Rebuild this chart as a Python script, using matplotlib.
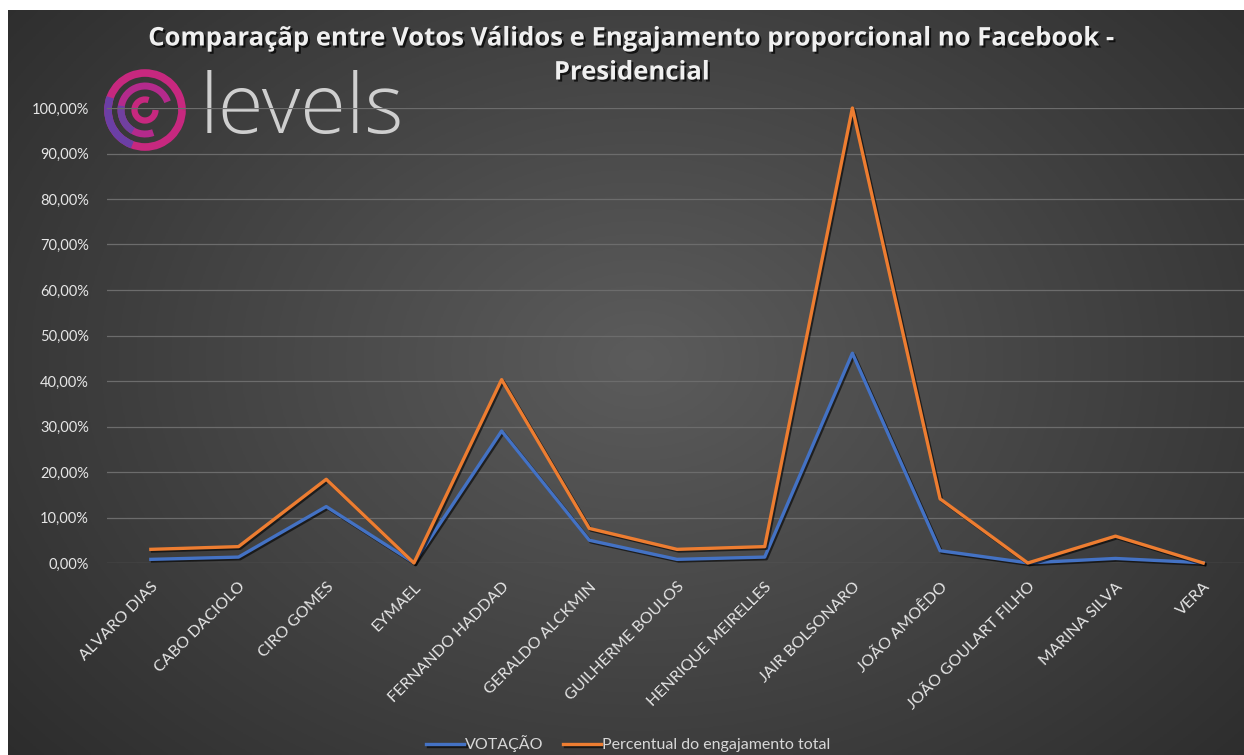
import numpy as np
import matplotlib
matplotlib.use("Agg")
import matplotlib.pyplot as plt
import matplotlib.patheffects as pe
from matplotlib.patches import Arc

candidatos = ['ALVARO DIAS', 'CABO DACIOLO', 'CIRO GOMES', 'EYMAEL', 'FERNANDO HADDAD',
              'GERALDO ALCKMIN', 'GUILHERME BOULOS', 'HENRIQUE MEIRELLES', 'JAIR BOLSONARO',
              'JOÃO AMOÊDO', 'JOÃO GOULART FILHO', 'MARINA SILVA', 'VERA']
votacao = [0.008, 0.013, 0.124, 0.0005, 0.290, 0.050, 0.008, 0.013, 0.461, 0.027, 0.0003, 0.010, 0.0005]
engajamento = [0.030, 0.036, 0.184, 0.0, 0.403, 0.076, 0.030, 0.036, 1.000, 0.141, 0.0, 0.059, 0.0]
yticks = np.arange(0, 1.01, 0.1)

titulo1 = 'Comparaçãp entre Votos Válidos e Engajamento proporcional no Facebook -'
titulo2 = 'Presidencial'

plt.rcParams['font.family'] = ['Lato', 'DejaVu Sans']

W, H = 1244, 755
fig = plt.figure(figsize=(W / 100, H / 100), dpi=100, facecolor='white')

# fundo com gradiente radial
bg = fig.add_axes([0, 0, 1, 1])
bg.set_xlim(0, W)
bg.set_ylim(H, 0)
bg.axis('off')
xx, yy = np.meshgrid(np.linspace(8, W, 400), np.linspace(10, H, 250))
r = np.sqrt(((xx - 640) / 760) ** 2 + ((yy - 360) / 560) ** 2)
g = np.clip(0.36 - 0.17 * r, 0.16, 0.36)
bg.imshow(np.dstack([g, g, g]), extent=[8, W, H, 10], aspect='auto', zorder=0)

# logo
cx, cy = 145, 110
bg.add_patch(Arc((cx, cy), 74, 74, theta1=0, theta2=360, color='#c7287f', lw=5.5, zorder=2))
bg.add_patch(Arc((cx, cy), 74, 74, theta1=110, theta2=200, color='#6b3fa5', lw=5.5, zorder=3))
bg.add_patch(Arc((cx, cy), 48, 48, theta1=70, theta2=340, color='#b42a8c', lw=5, zorder=2))
bg.add_patch(Arc((cx, cy), 48, 48, theta1=120, theta2=190, color='#7040a0', lw=5, zorder=3))
bg.add_patch(Arc((cx, cy), 21, 21, theta1=0, theta2=290, color='#c7287f', lw=4.5, zorder=2))
bg.text(200, 112, 'levels', fontsize=60, color='#cfcfcf', fontweight='light',
        family=['Open Sans', 'DejaVu Sans'], va='center', ha='left', zorder=2)

ax = fig.add_axes([107 / W, (H - 563) / H, 1140 / W, (563 - 108) / H])
ax.set_facecolor('none')
x = np.arange(len(candidatos))
shadow = [pe.SimpleLineShadow(offset=(1.2, -1.2), shadow_color='black', alpha=0.6), pe.Normal()]
ax.plot(x, votacao, color='#4472C4', lw=2.4, label='VOTAÇÃO', path_effects=shadow, clip_on=False, zorder=3)
ax.plot(x, engajamento, color='#ED7D31', lw=2.4, label='Percentual do engajamento total',
        path_effects=shadow, clip_on=False, zorder=4)

ax.set_xlim(-0.5, len(candidatos) - 0.5)
ax.set_ylim(0, 1.0)
ax.set_yticks(yticks)
ax.set_yticklabels([f'{v * 100:.2f}%'.replace('.', ',') for v in yticks])
ax.set_xticks(x)
ax.set_xticklabels(candidatos, rotation=45, ha='right', rotation_mode='anchor')
ax.grid(axis='y', color='#6c6c6c', lw=0.9)
ax.set_axisbelow(True)
for s in ax.spines.values():
    s.set_visible(False)
ax.tick_params(axis='both', length=0, colors='#e6e6e6')
ax.tick_params(axis='y', pad=13, labelsize=10.5)
ax.tick_params(axis='x', pad=12, labelsize=11.5)

sombra = [pe.withSimplePatchShadow(offset=(1.5, -1.5), shadow_rgbFace='black', alpha=0.7)]
fig.text(0.508, 1 - 38 / H, titulo1, ha='center', va='center', fontsize=18.5, fontweight='bold',
         color='#f0f0f0', family=['Open Sans', 'DejaVu Sans'], path_effects=sombra)
fig.text(0.508, 1 - 72 / H, titulo2, ha='center', va='center', fontsize=18.5, fontweight='bold',
         color='#f0f0f0', family=['Open Sans', 'DejaVu Sans'], path_effects=sombra)

leg = fig.legend(loc='center', bbox_to_anchor=(0.505, 1 - 744 / H), ncol=2, frameon=False,
                 fontsize=11.5, handlelength=2.4, handletextpad=0.05, columnspacing=1.2)
for t in leg.get_texts():
    t.set_color('#d8d8d8')

fig.savefig('out.png', dpi=100, facecolor=fig.get_facecolor())
